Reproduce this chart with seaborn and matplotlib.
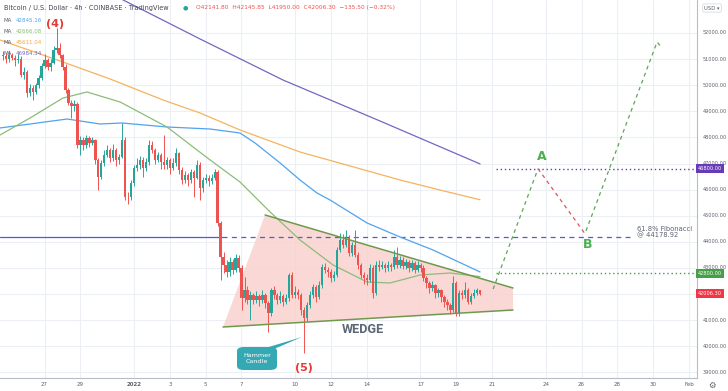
import numpy as np
import pandas as pd
import matplotlib
matplotlib.use("Agg")
import matplotlib.pyplot as plt
from matplotlib.patches import Polygon, FancyBboxPatch
import matplotlib.transforms as mtrans
import seaborn as sns

# ---------- data (x = days since 1 Jan 2022, y = USD) ----------
T0 = -7.33          # first 4h candle
STEP = 1 / 6        # 4 hours

closes = [
    51100, 51000, 51150, 51050, 50950, 51000, 50400, 50500, 49700, 49900,
    49750, 50000, 50280, 50740, 50960, 50700, 50850, 51350, 51420, 51150,
    50700, 49820, 49320, 49200, 49280, 47710, 47900, 47710, 47980, 47790,
    47900, 47135, 46480, 47020, 47330, 47520, 47210, 47520, 47135, 47250,
    47900, 45720, 45700, 46250, 46830, 46940, 47135, 46830, 47060, 47710,
    47520, 47135, 47330, 47060, 46940, 47135, 46830, 47020, 47400, 46750,
    46370, 46560, 46370, 46670, 46450, 46940, 46060, 46370, 46450, 46330,
    46450, 46670, 44720, 43420, 43110, 42840, 43230, 42920, 43380, 43000,
    41850, 42150, 41770, 41960, 41770, 41920, 41770, 41960, 41660, 41270,
    42150, 41960, 41770, 41920, 41700, 41850, 42730, 41960, 42080, 41960,
    41390, 41080, 41580, 41960, 42270, 41880, 42350, 43040, 42920, 42840,
    42610, 42730, 43690, 44070, 43880, 44150, 43570, 43880, 43500, 43110,
    42730, 42610, 42540, 43000, 42040, 43110, 43040, 43110, 43000, 43110,
    43040, 43420, 43110, 43300, 43080, 43230, 43000, 43190, 42920, 43110,
    43000, 42610, 42420, 42230, 42350, 42040, 42150, 41880, 41700, 41580,
    41390, 42420, 41270, 42040, 41960, 42150, 41700, 41920, 42040, 42150,
    42006.3,
]
highs = [
    51300, 51250, 51300, 51250, 51150, 51200, 51100, 50700, 50600, 50050,
    50000, 50100, 50400, 50850, 51200, 51050, 51000, 51500, 52190, 51600,
    51200, 50800, 49900, 49450, 49450, 49350, 48050, 48000, 48100, 48050,
    48000, 47950, 47200, 47150, 47500, 47700, 47600, 47750, 47600, 47350,
    48550, 48000, 45900, 46350, 46950, 47200, 47300, 47250, 47200, 47900,
    47850, 47600, 47450, 47400, 48100, 47250, 47200, 47200, 47600, 47450,
    46850, 46700, 46650, 46800, 46750, 47150, 47050, 46500, 46600, 46550,
    46600, 46800, 46750, 44800, 43600, 43300, 43400, 43350, 43550, 43500,
    43100, 42650, 42300, 42100, 42050, 42100, 42000, 42150, 42050, 41750,
    42250, 42300, 42050, 42100, 42000, 42000, 42800, 42850, 42300, 42200,
    42050, 41500, 41700, 42100, 42400, 42350, 42500, 43150, 43200, 43050,
    42950, 42900, 43800, 44350, 44300, 44450, 44250, 44000, 44450, 43600,
    43200, 42850, 42750, 43150, 43100, 43250, 43300, 43250, 43200, 43250,
    43200, 43700, 43800, 43450, 43400, 43350, 43300, 43300, 43250, 43250,
    43200, 43100, 42700, 42500, 42500, 42400, 42250, 42200, 41950, 41800,
    41650, 42700, 42500, 42150, 42150, 42450, 42250, 42050, 42200, 42250,
    42145.85,
]
lows = [
    50950, 50850, 50900, 50950, 50750, 50850, 50300, 50250, 49550, 49600,
    49450, 49650, 49900, 50200, 50650, 50600, 50550, 50800, 51250, 51050,
    50600, 49700, 49250, 48740, 49000, 47600, 47330, 47500, 47600, 47650,
    47700, 47000, 45990, 46400, 46900, 47250, 47050, 47100, 46900, 47000,
    47200, 45600, 45450, 45600, 46150, 46700, 46800, 46500, 46700, 46950,
    47400, 47000, 47050, 46800, 46800, 46800, 46600, 46750, 46900, 46600,
    46200, 46250, 46150, 46250, 45700, 46400, 45600, 45900, 46250, 46150,
    46200, 46350, 44600, 42540, 42800, 42650, 42700, 42750, 42850, 42850,
    41390, 41700, 41600, 41000, 41600, 41650, 41550, 41650, 41450, 40550,
    41150, 41800, 41600, 41650, 41550, 41600, 41750, 41850, 41850, 41800,
    41200, 39740, 40950, 41450, 41850, 41700, 41800, 42250, 42800, 42650,
    42450, 42500, 42650, 43600, 43750, 43800, 43450, 43450, 43400, 42950,
    42600, 42400, 42350, 42450, 41850, 41950, 42900, 42950, 42850, 42900,
    42900, 42950, 43000, 43000, 42950, 42950, 42850, 42900, 42800, 42850,
    42850, 42500, 42250, 42050, 42100, 41850, 41900, 41700, 41500, 41400,
    41250, 41300, 41150, 41150, 41800, 41850, 41600, 41600, 41850, 41950,
    41950,
]

# moving averages (day, price)
ma_blue_x = [-7.49, -5.81, -3.74, -1.90, -0.67, 1.84, 4.25, 5.92, 6.76, 8.16, 9.27, 10.22, 10.95, 13.02, 14.86, 16.70, 19.33]
ma_blue_y = [48361, 48514, 48705, 48514, 48552, 48399, 48322, 48169, 47786, 47020, 46369, 45870, 45602, 44721, 44185, 43687, 42845]
ma_green_x = [-7.49, -5.81, -3.97, -2.63, -0.78, 1.84, 4.25, 5.92, 7.60, 9.27, 11.12, 13.02, 14.30, 15.98, 17.65, 19.33]
ma_green_y = [48092, 48744, 49510, 49740, 49357, 48399, 47135, 46292, 45143, 44070, 43112, 42461, 42423, 42729, 42806, 42666]
ma_orange_x = [-7.49, -4.13, -1.34, 1.62, 3.69, 5.92, 9.27, 12.07, 14.86, 17.09, 19.33]
ma_orange_y = [51732, 50927, 50238, 49433, 48935, 48284, 47441, 46905, 46369, 45985, 45611]
ma_purple_x = [-1.30, -0.61, 3.69, 8.32, 13.74, 19.33]
ma_purple_y = [53700, 53264, 51770, 50199, 48629, 46984]

# drawings
fib_level = 44178.92
level_a = 46800
level_b = 42800
last_close = 42006.3
wedge_x = [4.97, 7.32, 21.17, 21.17]
wedge_y = [40737, 45028, 42231, 41388]
path_up1_x, path_up1_y = [20.06, 22.57], [42193, 46800]
path_down_x, path_down_y = [22.57, 25.15], [46800, 44350]
path_up2_x, path_up2_y = [25.25, 29.22, 29.50], [44420, 51655, 51425]

tick_days = [-5, -3, 0, 2, 4, 6, 9, 11, 13, 16, 18, 20, 23, 25, 27, 29, 31]
tick_text = ["27", "29", "2022", "3", "5", "7", "10", "12", "14",
             "17", "19", "21", "24", "26", "28", "30", "Feb"]
price_ticks = list(range(39000, 53000, 1000))

UP, DOWN = "#26a69a", "#ef5350"

# ---------- figure ----------
sns.set_theme(style="white")
plt.rcParams["font.family"] = ["DejaVu Sans"]

W, H = 728, 391
fig = plt.figure(figsize=(W / 100, H / 100), dpi=100)
ax = fig.add_axes([0, 13 / H, 697 / W, 378 / H])
ax.set_facecolor("white")
ax.set_xlim(-7.49, 31.45)
ax.set_ylim(38783, 53264)

for d in tick_days:
    ax.axvline(d, color="#eceff4", lw=0.8, zorder=0)
for p in price_ticks:
    ax.axhline(p, color="#eceff4", lw=0.8, zorder=0)

# wedge
ax.add_patch(Polygon(list(zip(wedge_x, wedge_y)), closed=True,
                     facecolor="#f9cfcc", edgecolor="none", alpha=0.8, zorder=1))
ax.plot([wedge_x[0], wedge_x[3]], [wedge_y[0], wedge_y[3]], color="#6f9a4e", lw=1.1, zorder=4)
ax.plot([wedge_x[1], wedge_x[2]], [wedge_y[1], wedge_y[2]], color="#6f9a4e", lw=1.1, zorder=4)

# fib line: solid part then dashed
ax.plot([-7.49, 4.9], [fib_level, fib_level], color="#4a5fd6", lw=0.9, zorder=2)
ax.plot([4.9, 27.7], [fib_level, fib_level], color="#4a5fd6", lw=0.9,
        ls=(0, (4, 3.5)), zorder=2)

# candles
opens = [closes[0] + 50] + closes[:-1]
cx = np.array([T0 + i * STEP for i in range(len(closes))])
o, c, h, l = map(np.array, (opens, closes, highs, lows))
col = np.where(c >= o, UP, DOWN)
ax.vlines(cx, l, h, colors=col, lw=0.7, zorder=3)
body = np.maximum(np.abs(c - o), 30)
ax.bar(cx, body, bottom=np.minimum(o, c), width=0.13, color=col, lw=0, zorder=3)

# moving averages
for xs, ys, colr in [(ma_purple_x, ma_purple_y, "#7466c4"),
                     (ma_orange_x, ma_orange_y, "#f7b25e"),
                     (ma_blue_x, ma_blue_y, "#4fa3f0"),
                     (ma_green_x, ma_green_y, "#8cbc78")]:
    sns.lineplot(x=xs, y=ys, color=colr, lw=0.9, ax=ax, zorder=2, sort=False)

# target levels
ax.plot([20.2, 31.45], [level_a, level_a], color="#673ab7", lw=1.0, ls=(0, (1, 2)), zorder=2)
ax.plot([20.2, 31.45], [level_b, level_b], color="#43a047", lw=1.0, ls=(0, (1, 2)), zorder=2)

# projected path
ax.plot(path_up1_x, path_up1_y, color="#5ea556", lw=0.9, ls=(0, (3, 3)), zorder=5)
ax.plot(path_down_x, path_down_y, color="#e0525a", lw=0.9, ls=(0, (3, 3)), zorder=5)
ax.plot(path_up2_x, path_up2_y, color="#5ea556", lw=0.9, ls=(0, (3, 3)), zorder=5)
ax.text(22.75, 47250, "A", color="#4caf50", fontsize=9, fontweight="bold", ha="center", va="center")
ax.text(25.35, 43900, "B", color="#4caf50", fontsize=9, fontweight="bold", ha="center", va="center")
ax.text(28.1, 44380, "61.8% Fibonacci\n@ 44178.92", color="#5b6271", fontsize=4.9,
        ha="left", va="center", linespacing=1.0)

# labels on chart
ax.text(-4.41, 52350, "(4)", color="#e53935", fontsize=8, fontweight="bold", ha="center", va="center")
ax.text(9.5, 39180, "(5)", color="#e53935", fontsize=8, fontweight="bold", ha="center", va="center")
ax.text(12.8, 40630, "WEDGE", color="#5d6878", fontsize=9.2, fontweight="bold",
        family=["Roboto", "DejaVu Sans"], ha="center", va="center")

# hammer callout
def to_data(px, py):
    return (ax.get_xlim()[0] + px / 697 * (ax.get_xlim()[1] - ax.get_xlim()[0]),
            ax.get_ylim()[1] - py / 378 * (ax.get_ylim()[1] - ax.get_ylim()[0]))

tri = [to_data(262, 349), to_data(274, 349), to_data(302, 337)]
ax.add_patch(Polygon(tri, closed=True, facecolor="#35a9b3", edgecolor="none", zorder=6))
bx0, by0 = to_data(237, 370)
bx1, by1 = to_data(277, 347)
ax.add_patch(FancyBboxPatch((bx0, by0), bx1 - bx0, by1 - by0,
                            boxstyle="round,pad=0,rounding_size=0.4", mutation_aspect=380,
                            facecolor="#35a9b3", edgecolor="none", zorder=6))
ax.text((bx0 + bx1) / 2, (by0 + by1) / 2, "Hammer\nCandle", color="white", fontsize=4.6,
        ha="center", va="center", linespacing=1.1, zorder=7)

# axes frame
for s in ["top", "left"]:
    ax.spines[s].set_visible(False)
for s in ["right", "bottom"]:
    ax.spines[s].set_color("#b8bcc6")
    ax.spines[s].set_linewidth(0.8)
ax.set_xticks(tick_days)
ax.set_xticklabels(tick_text)
ax.tick_params(axis="x", length=0, pad=3, labelsize=4, labelcolor="#5d606b")
for t in ax.get_xticklabels():
    if t.get_text() == "2022":
        t.set_fontweight("bold")
ax.set_yticks([])

# price scale
tr = mtrans.blended_transform_factory(ax.transAxes, ax.transData)
for p in price_ticks:
    if p == 42000:
        continue
    ax.text(1.008, p, f"{p:.2f}", transform=tr, fontsize=3.6, color="#5d606b",
            ha="left", va="center", clip_on=False)
for val, bg in [(level_a, "#673ab7"), (level_b, "#43a047"), (last_close, "#f23645")]:
    ax.text(1.0015, val, f"{val:.2f}", transform=tr, fontsize=3.6, color="white",
            ha="left", va="center", clip_on=False, zorder=10,
            bbox=dict(boxstyle="square,pad=0.4", fc=bg, ec="none"))

# header
fig.text(4 / W, 1 - 8 / H, "Bitcoin / U.S. Dollar · 4h · COINBASE · TradingView",
         fontsize=4.7, color="#434651", ha="left", va="center")
fig.text(185 / W, 1 - 8 / H, "●", fontsize=4.5, color="#26a69a", ha="center", va="center")
fig.text(196 / W, 1 - 8 / H, "O42141.80  H42145.85  L41950.00  C42006.30  −135.50 (−0.32%)",
         fontsize=4.2, color="#ef5350", ha="left", va="center")
ma_rows = [("42845.16", "#4fa3f0"), ("42666.08", "#8cbc78"),
           ("45611.04", "#f5a742"), ("46984.34", "#7466c4")]
for k, (v, colr) in enumerate(ma_rows):
    y = 1 - (20 + 11.3 * k) / H
    fig.text(4 / W, y, "MA", fontsize=4, color="#5d606b", ha="left", va="center")
    fig.text(16 / W, y, v, fontsize=4, color=colr, ha="left", va="center")

fig.text(712 / W, 1 - 8 / H, "USD ▾", fontsize=3.8, color="#5d606b", ha="center", va="center",
         bbox=dict(boxstyle="round,pad=0.3", fc="white", ec="#d1d4dc", lw=0.5))
fig.text(712 / W, 1 - 385 / H, "⚙", fontsize=6, color="#5d606b", ha="center", va="center")

fig.savefig("out.png", dpi=100)
